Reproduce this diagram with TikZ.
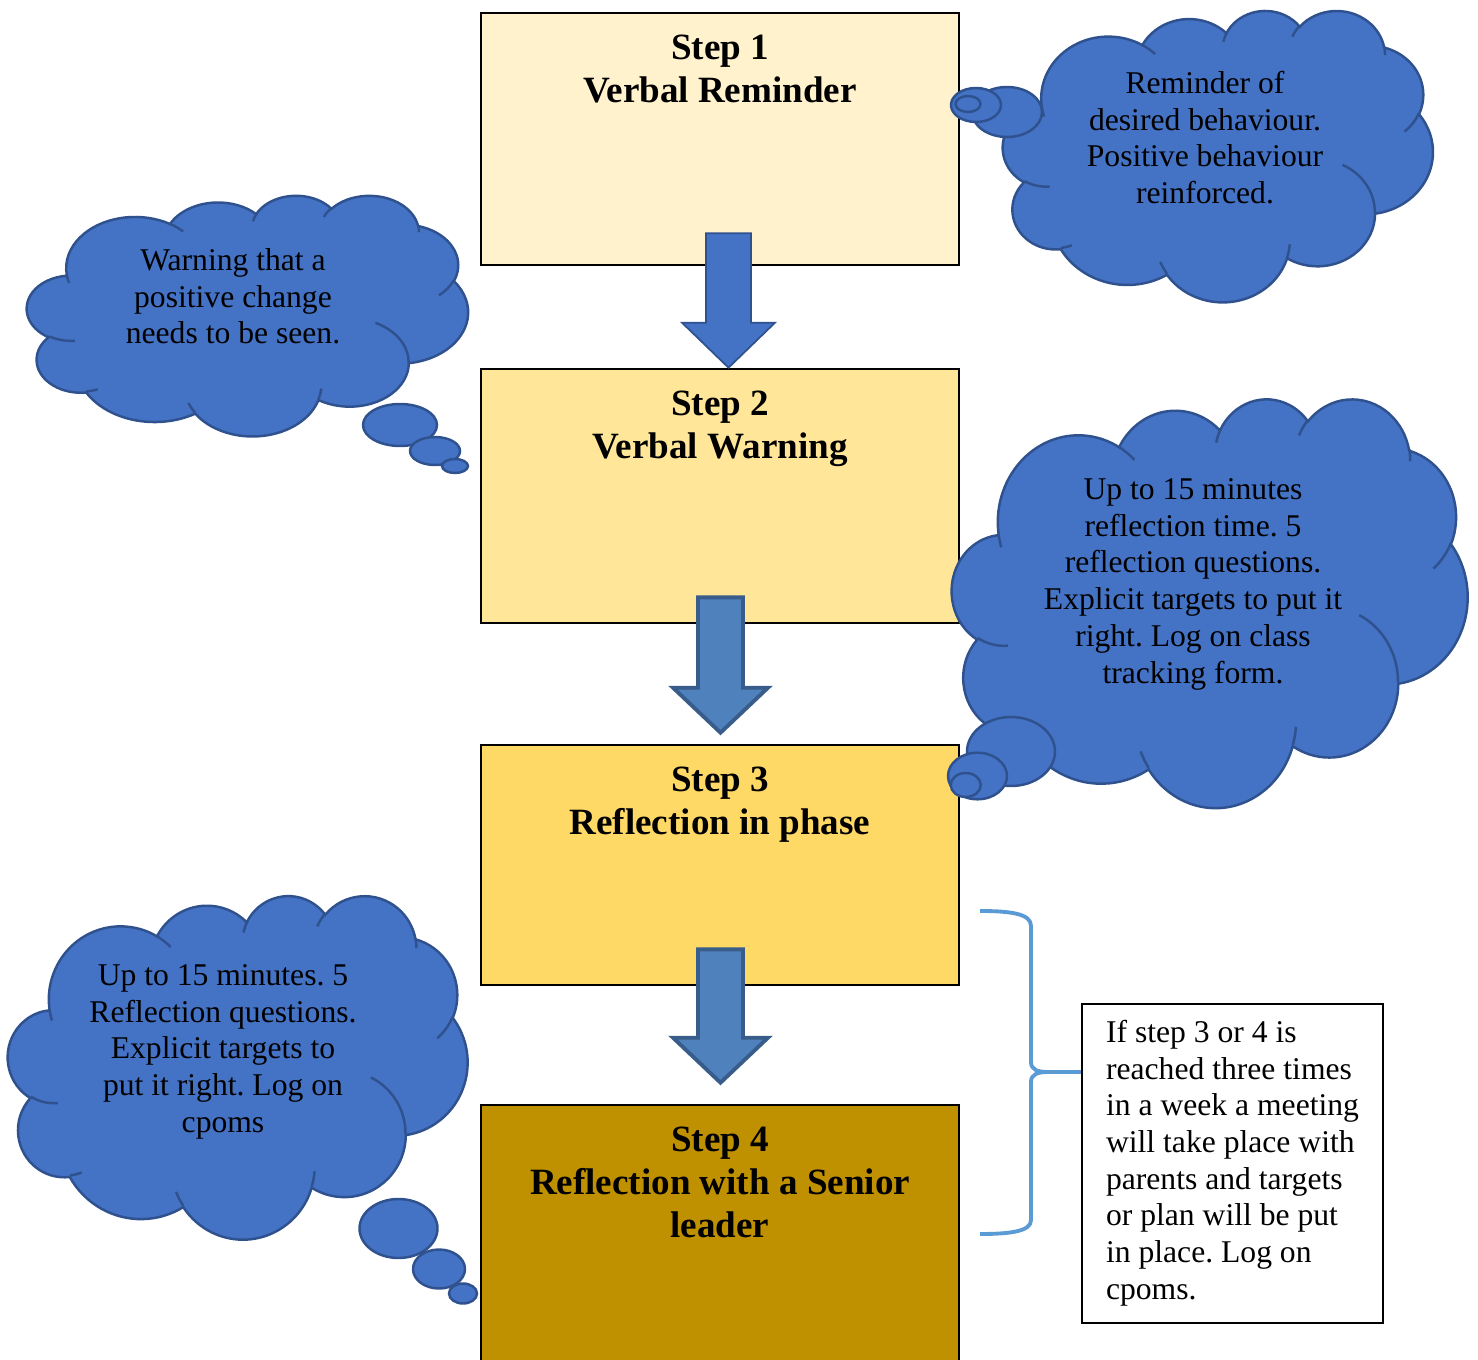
\documentclass[tikz,border=0pt]{standalone}
\usepackage{fontspec}
\setmainfont{Liberation Serif}
\usepackage{tikz}
\usetikzlibrary{positioning, calc}

\definecolor{stepa}{HTML}{FFF2CC}
\definecolor{stepb}{HTML}{FFE699}
\definecolor{stepc}{HTML}{FFD966}
\definecolor{stepd}{HTML}{BF9000}
\definecolor{cloudblue}{HTML}{4472C4}
\definecolor{cloudedge}{HTML}{2F528F}
\definecolor{arrowblue}{HTML}{4F81BD}
\definecolor{arrowedge}{HTML}{385D8A}
\definecolor{bracecol}{HTML}{5B9BD5}

% cloud outline: left, top, width, height
\newcommand{\thoughtcloud}[4]{%
  \begin{scope}[shift={(#1,-#2)}]
    \pgfmathsetmacro{\cldx}{#3/432}
    \pgfmathsetmacro{\cldy}{#4/432}
    \filldraw[cloudbody] ({39.00*\cldx},{-143.70*\cldy})
      foreach \a/\b/\s/\w in {67.53/91.90/-190.4875/123.7805, 53.33/72.67/-144.1024/89.9452,
        43.65/59.45/-145.8079/99.7230, 48.57/65.95/-130.9861/117.2417,
        53.33/72.73/-78.7089/109.0269, 67.75/92.20/-46.2673/130.2690,
        57.85/78.67/0.6250/114.0333, 67.52/92.15/22.4516/115.1726,
        77.20/105.43/66.2426/75.7110, 43.60/59.18/-274.9421/146.7356,
        43.45/59.45/-246.8285/152.5189}
      {arc[cloudarc]} -- cycle;
    \draw[cloudline]
      foreach \p/\q/\a/\b/\s/\w in {46.93/261.77/43.45/59.45/86.742/26.4295,
        69.28/348.99/43.60/59.18/73.6105/11.4475, 164.78/390.90/67.52/92.15/137.6242/14.0811,
        288.27/347.51/67.52/92.15/6.4533/15.9984, 341.29/229.54/57.85/78.67/-70.2924/70.9174,
        417.98/153.54/53.33/72.73/30.3180/27.7515, 383.24/54.26/48.57/65.95/-13.7443/14.8548,
        290.78/39.52/48.57/65.95/-149.1815/18.1880, 221.41/47.20/43.65/59.45/-163.4943/17.6934,
        140.00/51.92/67.53/91.90/-66.7070/12.3194, 41.27/157.89/67.53/91.90/157.6544/11.8582}
      {({\p*\cldx},{-\q*\cldy}) arc[cloudarc]};
  \end{scope}}

% block arrow: style, top, tip, half shaft, half head, head length
\newcommand{\blockdown}[6]{%
  \draw[#1] let \p1=(#2), \p2=(#3) in
    (\x2-#4,\y1) -- (\x2+#4,\y1) -- (\x2+#4,\y2+#6) -- (\x2+#5,\y2+#6)
    -- (\x2,\y2) -- (\x2-#5,\y2+#6) -- (\x2-#4,\y2+#6) -- cycle;}

\begin{document}
\frenchspacing
\begin{tikzpicture}[
    stepbox/.style={draw, line width=0.75pt, minimum width=4.78cm, inner sep=0pt},
    steptext/.style={font=\bfseries\fontsize{10.55}{12.2}\selectfont, align=center, inner sep=0pt},
    cloudbody/.style={fill=cloudblue, draw=cloudedge, line width=0.7pt},
    cloudline/.style={draw=cloudedge, line width=0.7pt},
    cloudarc/.style={start angle={-atan2(\a*sin(\s),\b*cos(\s))},
      delta angle={-mod(atan2(\a*sin(\s+\w),\b*cos(\s+\w))-atan2(\a*sin(\s),\b*cos(\s))+720,360)},
      x radius={\a*\cldx}, y radius={\b*\cldy}},
    cloudtext/.style={font=\fontsize{9}{10.44}\selectfont, align=center, inner sep=0pt, anchor=north},
    blockarrow/.style={fill=cloudblue, draw=cloudedge, line width=0.5pt},
    blockarrowb/.style={fill=arrowblue, draw=arrowedge, line width=1.1pt},
    notebox/.style={draw, line width=0.6pt, align=left, inner sep=0pt,
      minimum width=3.01cm, minimum height=3.19cm, font=\fontsize{9}{10.44}\selectfont},
    bracecurve/.style={draw=bracecol, line width=1.1pt}]
  \useasboundingbox (0,0) rectangle (14.78,-13.60);

  \node[stepbox, fill=stepa, minimum height=2.52cm] (s1) at (7.20,-1.39) {};
  \node[stepbox, fill=stepb, minimum height=2.54cm] (s2) at (7.20,-4.96) {};
  \node[stepbox, fill=stepc, minimum height=2.40cm] (s3) at (7.20,-8.65) {};
  \node[stepbox, fill=stepd, minimum height=2.61cm] (s4) at (7.20,-12.355) {};
  \node[steptext, below=0.169cm of s1.north] (h1) {\strut Step 1\\Verbal Reminder};
  \node[steptext, below=0.169cm of s2.north] (h2) {\strut Step 2\\Verbal Warning};
  \node[steptext, below=0.169cm of s3.north] (h3) {\strut Step 3\\Reflection in phase};
  \node[steptext, below=0.169cm of s4.north] (h4) {\strut Step 4\\Reflection with a Senior\\leader};

  \blockdown{blockarrow}{$(s1.south)+(0.085,0.33)$}{$(s2.north)+(0.085,0)$}{0.225cm}{0.465cm}{0.45cm}
  \blockdown{blockarrowb}{$(s2.south)+(0.005,0.27)$}{$(s3.north)+(0.005,0.11)$}{0.225cm}{0.475cm}{0.45cm}
  \blockdown{blockarrowb}{$(s3.south)+(0.005,0.37)$}{$(s4.north)+(0.005,0.21)$}{0.225cm}{0.475cm}{0.45cm}

  \thoughtcloud{10.03}{0.10}{4.30}{2.92}
  \foreach \x/\y/\rx/\ry in {10.07/-1.12/0.35/0.25, 9.76/-1.05/0.25/0.17, 9.68/-1.04/0.125/0.08}
    \filldraw[cloudbody] (\x,\y) ellipse [x radius=\rx, y radius=\ry];
  \thoughtcloud{0.27}{1.95}{4.41}{2.41}
  \foreach \x/\y/\rx/\ry in {4.00/-4.25/0.37/0.21, 4.35/-4.51/0.25/0.14, 4.55/-4.66/0.13/0.07}
    \filldraw[cloudbody] (\x,\y) ellipse [x radius=\rx, y radius=\ry];
  \thoughtcloud{9.52}{3.98}{5.16}{4.09}
  \foreach \x/\y/\rx/\ry in {10.11/-7.515/0.44/0.345, 9.775/-7.76/0.295/0.233, 9.657/-7.85/0.15/0.12}
    \filldraw[cloudbody] (\x,\y) ellipse [x radius=\rx, y radius=\ry];
  \thoughtcloud{0.08}{8.95}{4.60}{3.44}
  \foreach \x/\y/\rx/\ry in {3.985/-12.285/0.39/0.295, 4.39/-12.69/0.26/0.195, 4.63/-12.935/0.14/0.10}
    \filldraw[cloudbody] (\x,\y) ellipse [x radius=\rx, y radius=\ry];

  \node[cloudtext] (r1) at (12.05,-0.672) {\strut Reminder of\\desired behaviour.\\Positive behaviour\\reinforced.};
  \node[cloudtext] (r2) at (2.33,-2.442) {\strut Warning that a\\positive change\\needs to be seen.};
  \node[cloudtext] (r3) at (11.93,-4.732) {\strut Up to 15 minutes\\reflection time. 5\\reflection questions.\\Explicit targets to put it\\right. Log on class\\tracking form.};
  \node[cloudtext] (r4) at (2.23,-9.592) {\strut Up to 15 minutes. 5\\Reflection questions.\\Explicit targets to\\put it right. Log on\\cpoms};

  \node[notebox] (note) at (12.325,-11.635) {\strut If step 3 or 4 is\\reached three times\\in a week a meeting\\will take place with\\parents and targets\\or plan will be put\\in place. Log on\\cpoms.\strut};
  \coordinate (brtip) at (note.west |- 0,-10.72);
  \draw[bracecurve] (9.80,-9.11) .. controls (10.12,-9.11) and (10.31,-9.14) .. (10.31,-9.26)
    -- (10.31,-10.62) .. controls (10.31,-10.70) and (10.38,-10.72) .. (10.48,-10.72) -- (brtip)
    -- (10.48,-10.72) .. controls (10.38,-10.72) and (10.31,-10.74) .. (10.31,-10.82)
    -- (10.31,-12.20) .. controls (10.31,-12.31) and (10.12,-12.34) .. (9.80,-12.34);
\end{tikzpicture}
\end{document}
